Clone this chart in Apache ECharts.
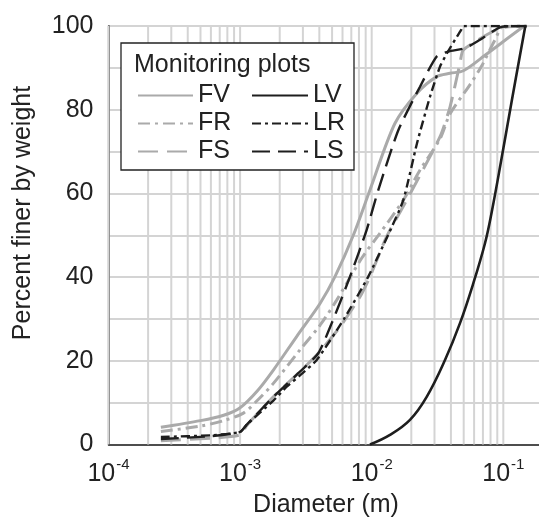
<!DOCTYPE html>
<html>
<head>
<meta charset="utf-8">
<script src="https://cdn.jsdelivr.net/npm/echarts@6/dist/echarts.min.js"></script>
<style>
html,body{margin:0;padding:0;background:#fff;}
#c{width:539px;height:529px;}
</style>
</head>
<body>
<div id="c"></div>
<script>
// ---- data: [diameter (m), percent finer] ----
const FV = [[2.5e-4,4.1],[5e-4,5.7],[7.5e-4,7.0],[1e-3,8.8],[1.35e-3,12.8],[1.79e-3,17.8],[2.69e-3,25.8],[4.05e-3,33.7],[5.26e-3,40.1],[7.25e-3,50],[9.7e-3,60.8],[0.015,76.7],[0.022,83.9],[0.0312,87.9],[0.0394,88.7],[0.0497,89.3],[0.0726,93],[0.142,99.8],[0.15,100]];
const FR = [[2.5e-4,3.1],[5e-4,4.4],[7.5e-4,5.7],[1.06e-3,7.5],[1.35e-3,10.5],[1.79e-3,14.6],[2.85e-3,22.6],[4.05e-3,28.5],[5.42e-3,34.5],[8.39e-3,44.5],[0.01156,50.5],[0.01738,58.4],[0.0233,65.6],[0.033,73],[0.0394,79],[0.0559,86],[0.0686,90.5],[0.0865,96.7],[0.1,99.8],[0.15,100]];
const FS = [[2.5e-4,0.9],[6e-4,1.5],[1e-3,2.3],[1.12e-3,4.5],[1.79e-3,11.4],[2.85e-3,17.4],[3.93e-3,21.8],[5.74e-3,28.1],[8.15e-3,35.3],[9.7e-3,40.1],[0.013,49.7],[0.01846,58.4],[0.033,73.5],[0.0394,80.7],[0.0469,91.1],[0.0497,94.3],[0.0944,99.5],[0.15,100]];
const LV = [[9.7e-3,0],[0.01377,2.3],[0.01954,5.9],[0.02617,11.4],[0.03606,20.2],[0.04688,29],[0.05916,38.5],[0.0726,48.1],[0.0816,55.5],[0.0972,68.5],[0.1158,82],[0.1339,93],[0.147,100]];
const LR = [[2.5e-4,1.8],[6e-4,2.2],[1e-3,3.0],[1.12e-3,4.7],[1.79e-3,10.5],[2.26e-3,13.8],[2.85e-3,16.5],[3.82e-3,20.2],[6.16e-3,30],[9.37e-3,40],[0.0133,50],[0.01738,58.4],[0.0221,72],[0.02773,83.1],[0.03304,90.3],[0.03734,93.5],[0.04295,96.7],[0.04771,99],[0.0497,100],[0.15,100]];
const LS = [[2.5e-4,1.3],[6e-4,2.0],[1e-3,3.0],[1.12e-3,4.7],[1.79e-3,11.4],[2.85e-3,17.4],[3.93e-3,21.8],[4.97e-3,29],[6.84e-3,40.1],[9.16e-3,51.3],[0.01122,60.8],[0.01593,75.1],[0.02328,85.5],[0.03118,92.7],[0.03821,93.9],[0.05116,94.7],[0.0665,96.7],[0.0972,99.8],[0.15,100]];

const legendLeft = ['FV','FR','FS'];
const legendRight = ['LV','LR','LS'];
const legendTitle = 'Monitoring plots';
const xTitle = 'Diameter (m)';
const yTitle = 'Percent finer by weight';
const decades = [1e-4, 1e-3, 1e-2, 1e-1];
const mults = [1,2,3,4,5,6,7,8,9];
const yRange = [0, 100];

const FONT = "'Liberation Sans', Arial, sans-serif";
const GRAY = '#aaaaaa';
const BLACK = '#1e1e1e';
const GRID = '#d4d4d4';

// vertical log gridlines drawn as broken line segments through the axes
const gridV = [];
decades.forEach(d => mults.forEach(m => {
  const v = d*m;
  gridV.push([v, yRange[0]], [v, yRange[1]], [v, '-']);
}));

const chart = echarts.init(document.getElementById('c'), null, {renderer:'canvas'});

function ser(name, data, color, width, type, z, smooth){
  return {
    name, type:'line', data, z,
    symbol:'none', showSymbol:false,
    smooth:smooth,
    lineStyle:{color, width, type},
    itemStyle:{color},
    animation:false
  };
}

const legendCommon = {
  orient:'vertical', top:78, itemHeight:14, itemGap:3, z:10,
  itemStyle:{color:'transparent', borderColor:'transparent', borderWidth:0, opacity:0},
  textStyle:{fontSize:25, fontFamily:FONT, color:'#222', lineHeight:25}
};

chart.setOption({
  animation:false,
  backgroundColor:'#fff',
  grid:{left:108.5, top:26, width:526.4, bottom:84.5, show:true, borderColor:'#333', borderWidth:1.2,
        containLabel:false, outerBoundsMode:'none'},
  xAxis:{
    type:'log', logBase:10, min:1e-4, max:1,
    axisLine:{show:true, lineStyle:{color:'#222', width:1.5}},
    axisTick:{show:false},
    splitLine:{show:false},
    axisLabel:{
      margin:12, color:'#222', fontFamily:FONT,
      formatter: v => '{b|10}{s|' + Math.round(Math.log10(v)) + '}',
      rich:{
        b:{fontSize:25, fontFamily:FONT, color:'#222', verticalAlign:'bottom', lineHeight:30},
        s:{fontSize:15, fontFamily:FONT, color:'#222', verticalAlign:'bottom', lineHeight:30, padding:[0,0,14,1]}
      }
    }
  },
  yAxis:{
    type:'value', min:0, max:100, interval:20,
    axisLine:{show:true, lineStyle:{color:'#222', width:1.5}},
    axisTick:{show:false},
    axisLabel:{margin:15, fontSize:25, color:'#222', fontFamily:FONT},
    splitLine:{show:true, lineStyle:{color:GRID, width:2}},
    minorTick:{show:false, splitNumber:2},
    minorSplitLine:{show:true, lineStyle:{color:GRID, width:2}}
  },
  legend:[
    Object.assign({data:legendLeft, left:132, itemWidth:55}, legendCommon),
    Object.assign({data:legendRight, left:246, itemWidth:56}, legendCommon)
  ],
  graphic:[
    {type:'rect', z:8, shape:{x:121, y:43, width:233, height:127}, style:{fill:'#fff', stroke:'#222', lineWidth:1.3}},
    {type:'text', z:9, x:134, y:65, style:{text:legendTitle, font:'25px '+FONT, fill:'#222', textVerticalAlign:'middle'}},
    {type:'text', z:9, x:326, y:505, style:{text:xTitle, font:'25px '+FONT, fill:'#222', textAlign:'center', textVerticalAlign:'middle'}},
    {type:'text', z:9, x:23, y:213, rotation:Math.PI/2, style:{text:yTitle, font:'25px '+FONT, fill:'#222', textAlign:'center', textVerticalAlign:'middle'}}
  ],
  series:[
    {name:'gridV', type:'line', data:gridV, z:1, silent:true, symbol:'none', showSymbol:false,
     connectNulls:false, smooth:false, lineStyle:{color:GRID, width:2}, animation:false},
    ser('FV', FV, GRAY, 3, 'solid', 3, 0.3),
    ser('FR', FR, GRAY, 3, [12,5,3,5], 3, 0.3),
    ser('FS', FS, GRAY, 3, [20,9], 3, 0.2),
    ser('LV', LV, BLACK, 2.6, 'solid', 4, 0.4),
    ser('LR', LR, BLACK, 2.4, [9,4,3,4], 4, 0.2),
    ser('LS', LS, BLACK, 2.4, [18,8], 4, 0.2)
  ]
});
</script>
</body>
</html>
